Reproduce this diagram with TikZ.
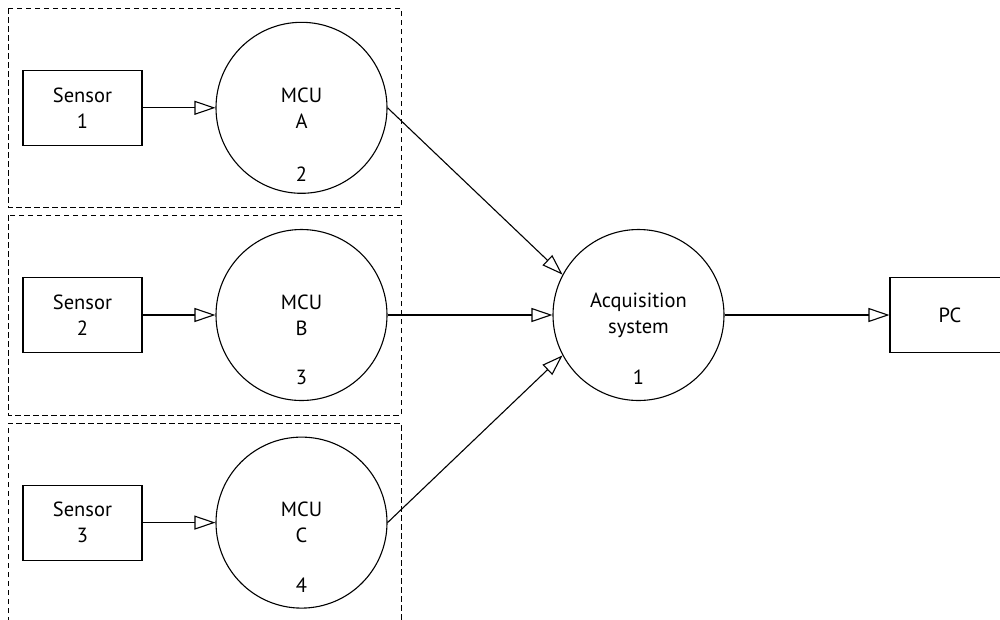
\documentclass[tikz,border=0pt]{standalone}
\usepackage{fontspec}
\setmainfont{PT Sans}
\usetikzlibrary{arrows.meta}
\tikzset{
  x=1pt, y=-1pt,
  every node/.style={font=\fontsize{20.5}{26}\selectfont, text=black},
  group/.style={draw=black, line width=1pt, dash pattern=on 5.5pt off 3.5pt},
  sensorbox/.style={draw, line width=1.1pt, minimum width=119pt, minimum height=75pt, inner sep=0pt, align=center},
  proc/.style={draw, circle, line width=1.1pt, minimum size=171pt, inner sep=0pt, align=center},
  flow/.style={line width=1.1pt, -{Triangle[open, length=21pt, width=14pt, line width=1.1pt]}},
  numlabel/.style={inner sep=0pt}
}
\begin{document}
\begin{tikzpicture}
\useasboundingbox (0,0) rectangle (1000,619);
\fill[white] (0,0) rectangle (1000,619);
% dashed groups
\draw[group] (8,8) rectangle (401,207);
\draw[group] (8,215) rectangle (401,415);
\draw[group] (8,640) -- (8,423) -- (401,423) -- (401,640);
% sensors
\node[sensorbox] (s1) at (82.5,107.8) {Sensor\\1};
\node[sensorbox] (s2) at (82.5,315) {Sensor\\2};
\node[sensorbox] (s3) at (82.5,522.6) {Sensor\\3};
% MCUs
\node[proc] (mA) at (301.5,107.8) {MCU\\A};
\node[proc] (mB) at (301.5,315) {MCU\\B};
\node[proc] (mC) at (301.5,522.6) {MCU\\C};
\node[numlabel] (nA) at (301.5,174) {2};
\node[numlabel] (nB) at (301.5,377) {3};
\node[numlabel] (nC) at (301.5,585) {4};
% acquisition
\node[proc] (acq) at (638.5,315) {Acquisition\\system};
\node[numlabel] (n1) at (638.5,377) {1};
% PC
\node[sensorbox, minimum width=120pt] (pc) at (950,315) {PC};
% connectors
\draw[flow] (s1.east) -- (mA.west);
\draw[flow] (s2.east) -- (mB.west);
\draw[flow] (s3.east) -- (mC.west);
\draw[flow] (mA.east) -- (acq.152);
\draw[flow] (mB.east) -- (acq.west);
\draw[flow] (mC.east) -- (acq.208);
\draw[flow] (acq.east) -- (pc.west);
\end{tikzpicture}
\end{document}
